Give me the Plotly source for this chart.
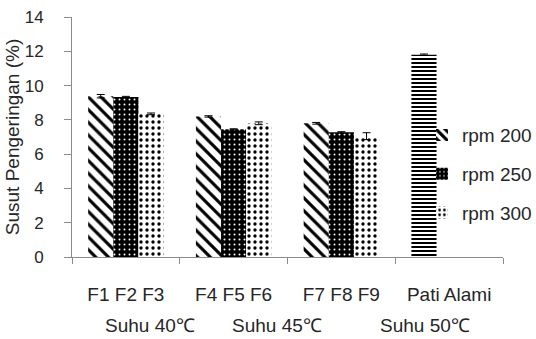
import plotly.graph_objects as go

groups = ["G1", "G2", "G3", "G4"]
group_labels = ["F1 F2 F3", "F4 F5 F6", "F7 F8 F9", "Pati Alami"]
suhu_labels = ["Suhu 40\u2103", "Suhu 45\u2103", "Suhu 50\u2103"]

rpm200 = [9.38, 8.2, 7.8, 11.8]
rpm200_err = [0.1, 0.04, 0.05, 0.04]
rpm250 = [9.33, 7.45, 7.27, None]
rpm250_err = [0.04, 0.03, 0.04, 0]
rpm300 = [8.35, 7.8, 7.05, None]
rpm300_err = [0.05, 0.08, 0.2, 0]

txt = "#262626"
axc = "#8c8c8c"

fig = go.Figure()
err = dict(type="data", thickness=1, width=4, color="black")

fig.add_bar(
    x=groups, y=rpm200, name="rpm 200",
    error_y=dict(array=rpm200_err, **err),
    marker=dict(
        color="black", line=dict(width=0),
        pattern=dict(shape=["\\", "\\", "\\", "-"], size=[9, 9, 9, 4],
                     solidity=[0.35, 0.35, 0.35, 0.5],
                     fgcolor="black", bgcolor="white", fillmode="replace"),
    ),
    legendgroup="a",
)
fig.add_bar(
    x=groups, y=rpm250, name="rpm 250",
    error_y=dict(array=rpm250_err, **err),
    marker=dict(
        color="black", line=dict(width=0),
        pattern=dict(shape=".", size=5, solidity=0.12,
                     fgcolor="white", bgcolor="black", fillmode="replace"),
    ),
    legendgroup="b",
)
fig.add_bar(
    x=groups, y=rpm300, name="rpm 300",
    error_y=dict(array=rpm300_err, **err),
    marker=dict(
        color="black", line=dict(width=0),
        pattern=dict(shape=".", size=6, solidity=0.25,
                     fgcolor="black", bgcolor="white", fillmode="replace"),
    ),
    legendgroup="c",
)

fig.update_layout(
    width=536, height=339,
    margin=dict(l=72, r=33, t=17, b=82, autoexpand=False),
    paper_bgcolor="white", plot_bgcolor="white",
    barmode="group", bargap=0.3, bargroupgap=0,
    font=dict(family="Liberation Sans, Arial, sans-serif", size=17, color=txt),
    showlegend=True,
    legend=dict(x=0.812, y=0.345, xanchor="left", yanchor="middle",
                font=dict(size=19, color=txt), bgcolor="rgba(0,0,0,0)",
                traceorder="grouped", tracegroupgap=11),
    xaxis=dict(
        type="category", tickmode="array", tickvals=groups, ticktext=group_labels,
        tickson="boundaries", ticks="outside", ticklen=6, tickcolor=axc,
        showline=True, linecolor=axc, linewidth=1, showgrid=False,
        tickfont=dict(size=19), ticklabelstandoff=20, automargin=False,
    ),
    yaxis=dict(
        range=[0, 14], tickvals=[0, 2, 4, 6, 8, 10, 12, 14],
        ticks="outside", ticklen=7, tickcolor=axc,
        showline=True, linecolor=axc, linewidth=1, showgrid=False, zeroline=False,
        tickfont=dict(size=17), ticklabelstandoff=17, automargin=False,
        title=dict(text="Susut Pengeringan (%)", font=dict(size=19), standoff=0),
    ),
)

for xp, lab in zip([150, 277, 425], suhu_labels):
    fig.add_annotation(x=(xp - 72) / 431, y=-(325 - 257) / 240, xref="paper", yref="paper",
                       xanchor="center", yanchor="middle",
                       text=lab, showarrow=False, font=dict(size=19, color=txt))

fig.write_html("out.html", config={"displayModeBar": False},
               post_script="document.body.style.margin='0';document.body.style.overflow='hidden';")
